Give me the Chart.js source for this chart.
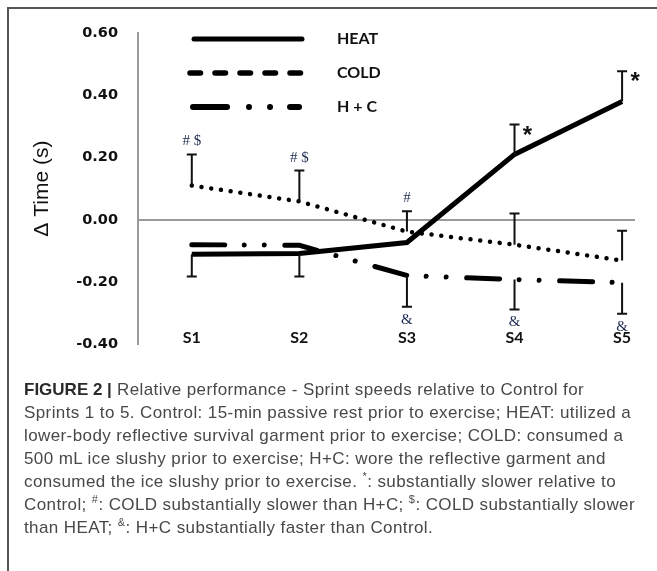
<!DOCTYPE html>
<html>
<head>
<meta charset="utf-8">
<script src="https://cdn.jsdelivr.net/npm/chart.js@4.4.0/dist/chart.umd.min.js"></script>
<style>
  html, body { margin: 0; padding: 0; background: #fff; }
  #wrap { position: relative; width: 657px; height: 571px; overflow: hidden; }
  #chart { position: absolute; left: 0; top: 0; width: 657px; height: 373px; }
  #frame { position: absolute; left: 7px; top: 7px; width: 680px; height: 600px;
           border-left: 2px solid #555; border-top: 2px solid #555; }
  #caption { position: absolute; left: 24px; top: 378px; white-space: nowrap;
             font-family: "Liberation Sans", Arial, sans-serif; font-size: 17px;
             letter-spacing: 0.4px; line-height: 23px; color: #484848; }
  #caption b { color: #2a2a2a; letter-spacing: 0; }
  #caption sup { font-size: 11px; line-height: 0; }
</style>
</head>
<body>
<div id="wrap">
  <canvas id="chart" width="657" height="373"></canvas>
  <div id="frame"></div>
  <div id="caption">
    <b>FIGURE 2 |</b> Relative performance - Sprint speeds relative to Control for<br>
    Sprints 1 to 5. Control: 15-min passive rest prior to exercise; HEAT: utilized a<br>
    lower-body reflective survival garment prior to exercise; COLD: consumed a<br>
    500 mL ice slushy prior to exercise; H+C: wore the reflective garment and<br>
    consumed the ice slushy prior to exercise. <sup>*</sup>: substantially slower relative to<br>
    Control; <sup>#</sup>: COLD substantially slower than H+C; <sup>$</sup>: COLD substantially slower<br>
    than HEAT; <sup>&amp;</sup>: H+C substantially faster than Control.
  </div>
</div>
<script>
// sprint labels and values (delta time, s)
const sprints = ['S1', 'S2', 'S3', 'S4', 'S5'];
const heat = [-0.111, -0.108, -0.073, 0.210, 0.380];
const cold = [0.110, 0.059, -0.038, -0.080, -0.131];
const hc = [-0.080, -0.082, -0.179, -0.192, -0.202];

// one-sided error bars (signed: + goes up, - goes down)
const heatErr = [-0.071, -0.074, null, 0.096, 0.097];
const coldErr = [0.100, 0.099, 0.065, 0.100, 0.096];
const hcErr = [null, null, -0.100, -0.096, -0.100];

// significance marks
const heatMarks = ['', '', '', '*', '*'];
const coldMarks = ['# $', '# $', '#', '', ''];
const hcMarks = ['', '', '&', '&', '&'];

const yTicks = [-0.4, -0.2, 0, 0.2, 0.4, 0.6];

const toPts = arr => arr.map((v, i) => ({ x: i + 1, y: v }));

// error bars + marks, drawn through the scales
const errorBars = {
  id: 'errorBars',
  afterDatasetsDraw(chart) {
    const { ctx, scales: { x, y } } = chart;
    ctx.save();
    chart.data.datasets.forEach(ds => {
      ds.errors.forEach((e, i) => {
        const px = x.getPixelForValue(i + 1);
        const v = ds.data[i].y;
        if (e != null) {
          const y0 = y.getPixelForValue(v);
          const y1 = y.getPixelForValue(v + e);
          ctx.strokeStyle = '#111';
          ctx.lineWidth = 2;
          ctx.setLineDash([]);
          ctx.beginPath();
          ctx.moveTo(px, y0); ctx.lineTo(px, y1);
          ctx.moveTo(px - 5, y1); ctx.lineTo(px + 5, y1);
          ctx.stroke();
        }
        const m = ds.marks[i];
        if (!m) return;
        const tip = y.getPixelForValue(v + (e || 0));
        if (m === '*') {
          ctx.fillStyle = '#111';
          ctx.font = 'bold 24px "Liberation Sans", Arial, sans-serif';
          ctx.textAlign = 'center';
          ctx.textBaseline = 'alphabetic';
          ctx.fillText(m, px + 13, tip + 5 + 13);
        } else {
          ctx.fillStyle = '#1e2b4f';
          ctx.font = '15px "Liberation Serif", "Times New Roman", serif';
          ctx.textAlign = 'center';
          ctx.textBaseline = 'middle';
          ctx.fillText(m, px, e > 0 ? tip - 13 : tip + 13);
        }
      });
    });
    ctx.restore();
  }
};

// category labels placed just above the bottom of the plot, as in the figure
const sprintLabels = {
  id: 'sprintLabels',
  afterDraw(chart) {
    const { ctx, chartArea, scales: { x } } = chart;
    ctx.save();
    ctx.fillStyle = '#111';
    ctx.font = 'bold 16px Lato, "Open Sans", sans-serif';
    ctx.textAlign = 'center';
    ctx.textBaseline = 'middle';
    sprints.forEach((s, i) => ctx.fillText(s, x.getPixelForValue(i + 1), chartArea.bottom - 6));
    ctx.restore();
  }
};

// legend in the upper part of the plot
const lineLegend = {
  id: 'lineLegend',
  afterDraw(chart) {
    const { ctx } = chart;
    ctx.save();
    chart.data.datasets.forEach((ds, k) => {
      const yy = 39 + k * 34;
      ctx.strokeStyle = '#000';
      ctx.lineWidth = ds.legendWidth;
      ctx.lineCap = 'round';
      ctx.setLineDash(ds.legendDash);
      ctx.beginPath();
      ctx.moveTo(ds.legendFrom, yy);
      ctx.lineTo(ds.legendTo, yy);
      ctx.stroke();
      ctx.setLineDash([]);
      ctx.fillStyle = '#111';
      ctx.font = 'bold 16px Lato, "Open Sans", sans-serif';
      ctx.textAlign = 'left';
      ctx.textBaseline = 'middle';
      ctx.fillText(ds.label, 337, yy);
    });
    ctx.restore();
  }
};

new Chart(document.getElementById('chart'), {
  type: 'line',
  data: {
    datasets: [
      { label: 'HEAT', data: toPts(heat), errors: heatErr, marks: heatMarks,
        borderColor: '#000', borderWidth: 5, borderCapStyle: 'butt',
        legendDash: [], legendWidth: 5, legendFrom: 194, legendTo: 302 },
      { label: 'COLD', data: toPts(cold), errors: coldErr, marks: coldMarks,
        borderColor: '#000', borderWidth: 4.5, borderCapStyle: 'round', borderDash: [0.01, 9.8],
        legendDash: [10.5, 14.5], legendWidth: 5.5, legendFrom: 190, legendTo: 301 },
      { label: 'H + C', data: toPts(hc), errors: hcErr, marks: hcMarks,
        borderColor: '#000', borderWidth: 5, borderCapStyle: 'round',
        borderDash: [33, 19.5, 0.01, 20, 0.01, 20.5],
        legendDash: [34, 22, 0.01, 21, 0.01, 20], legendWidth: 6, legendFrom: 193, legendTo: 299 }
    ]
  },
  options: {
    responsive: false,
    maintainAspectRatio: false,
    animation: false,
    devicePixelRatio: 1,
    layout: { padding: { top: 33, right: 22, bottom: 4, left: 0 } },
    elements: { point: { radius: 0 }, line: { tension: 0 } },
    plugins: { legend: { display: false }, tooltip: { enabled: false } },
    scales: {
      x: {
        type: 'linear', min: 0.5, max: 5.12,
        display: false
      },
      y: {
        min: -0.4, max: 0.6,
        afterBuildTicks: s => { s.ticks = yTicks.map(v => ({ value: v })); },
        afterFit: s => { s.width = 138; },
        grid: {
          drawTicks: false,
          lineWidth: 2,
          color: c => (c.tick && Math.abs(c.tick.value) < 1e-9) ? '#9a9a9a' : 'rgba(0,0,0,0)'
        },
        border: { display: true, color: '#9a9a9a', width: 2 },
        ticks: {
          padding: 20,
          color: '#111',
          font: { family: '"DejaVu Sans", sans-serif', size: 14.5, weight: 'bold' },
          callback: v => Number(v).toFixed(2)
        },
        title: {
          display: true,
          text: 'Δ Time (s)',
          color: '#111',
          font: { family: '"Liberation Sans", Arial, sans-serif', size: 21 },
          padding: { top: 30, bottom: 0 }
        }
      }
    }
  },
  plugins: [errorBars, sprintLabels, lineLegend]
});
</script>
</body>
</html>
